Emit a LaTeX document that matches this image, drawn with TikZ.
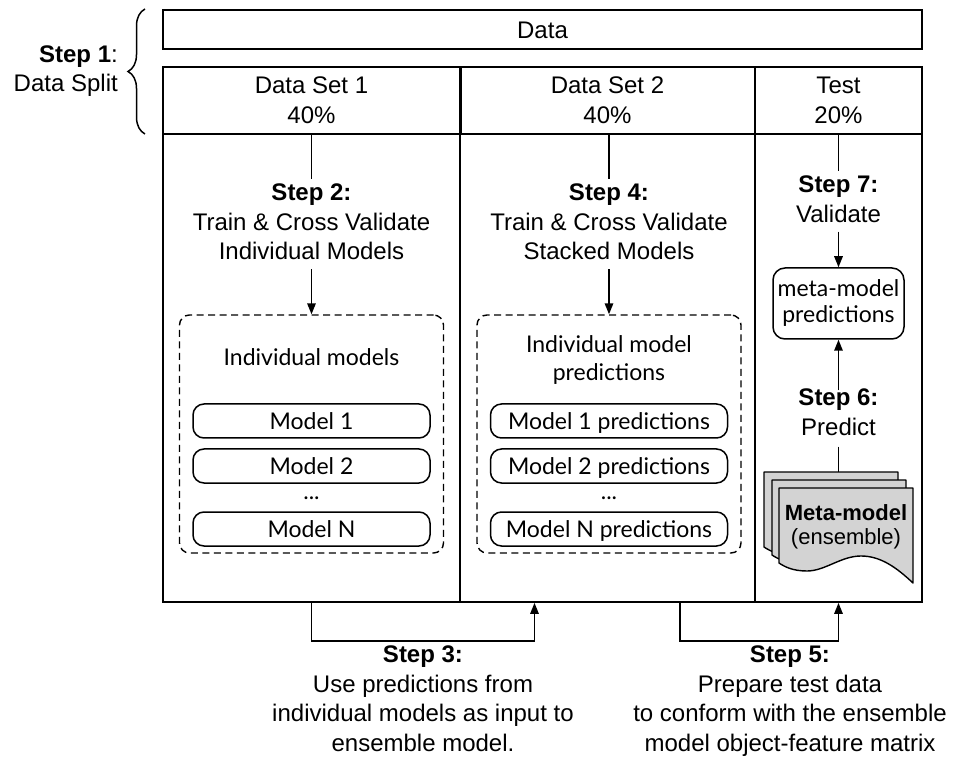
\documentclass[tikz,border=0pt]{standalone}
\usepackage{fontspec}
\setmainfont{Liberation Sans}
\newfontfamily\latofont{Lato}
\usetikzlibrary{arrows.meta,calc,decorations.pathreplacing}
\definecolor{docgray}{RGB}{211,211,211}
\tikzset{
  docfill/.style={draw, fill=docgray, line width=1.4pt, line join=round},
  docsheet/.pic={\draw[docfill] (0,0) -- (134,0) -- (134,95)
      .. controls (118,80) and (102,68) .. (82,68)
      .. controls (62,68) and (46,83) .. (28,83)
      .. controls (14,83) and (6,79) .. (0,75) -- cycle;}
}
\begin{document}
\begin{tikzpicture}[x=1pt,y=-1pt,
  cell/.style={draw, line width=1.8pt, inner sep=0pt, align=center,
               font=\fontsize{24}{30}\selectfont},
  txt/.style={font=\fontsize{24}{29.7}\selectfont, align=center, inner sep=0pt},
  ltxt/.style={font=\latofont\fontsize{23}{28}\selectfont, align=center, inner sep=0pt},
  dbox/.style={draw, dash pattern=on 7pt off 4.5pt, line width=1.4pt,
               rounded corners=10pt, minimum width=264pt, minimum height=238pt, inner sep=0pt},
  mbox/.style={draw, line width=1.5pt, rounded corners=11pt, minimum width=237pt,
               minimum height=34pt, font=\latofont\fontsize{23}{28}\selectfont,
               text height=16.5pt, text depth=0pt, inner sep=0pt},
  pbox/.style={draw, line width=1.5pt, rounded corners=12pt, minimum width=131pt,
               minimum height=71pt, font=\latofont\fontsize{23}{26}\selectfont,
               align=center, inner sep=0pt},
  conn/.style={line width=1.5pt},
  arr/.style={line width=1.5pt, -{Triangle[length=11pt,width=8.5pt]}}
]
\useasboundingbox (0,0) rectangle (954,759);

% top data box
\node[cell, minimum width=759pt, minimum height=39pt, text height=17.2pt, text depth=0pt]
  (data) at (542.5,29.5) {Data};

% header cells
\node[cell, minimum width=297pt, minimum height=67pt] (h1) at (311.5,100.5) {Data Set 1\\40\%};
\node[cell, minimum width=295pt, minimum height=67pt] (h2) at (607.5,100.5) {Data Set 2\\40\%};
\node[cell, minimum width=167pt, minimum height=67pt] (h3) at (838.5,100.5) {Test\\20\%};

% column cells
\node[cell, minimum width=297pt, minimum height=468pt] (c1) at (311.5,368) {};
\node[cell, minimum width=295pt, minimum height=468pt] (c2) at (607.5,368) {};
\node[cell, minimum width=167pt, minimum height=468pt] (c3) at (838.5,368) {};
\draw[line width=3pt] (h1.north east) -- (h1.south east);

% step 1 brace
\draw[line width=1.5pt, decorate, decoration={brace, amplitude=17pt}] (145,134) -- (145,9);
\node[txt, align=right, anchor=north east, font=\fontsize{24}{29}\selectfont]
  (s1) at (118,45.5) {\textbf{Step 1}:\\Data Split};

% column 1
\node[txt, inner ysep=4pt, anchor=north] (s2) at (311.5,179.5)
  {\textbf{Step 2:}\\Train \& Cross Validate\\Individual Models};
\node[dbox] (d1) at (311.5,434) {};
\draw[conn] (h1.south) -- (s2.north);
\draw[arr, shorten <=5pt] (s2.south) -- (d1.north);
\node[ltxt, anchor=base] (l1) at (311.5,366) {Individual models};
\node[mbox] (m11) at (311.5,421) {Model 1};
\node[mbox] (m12) at (311.5,466) {Model 2};
\node[ltxt, anchor=base] (dots1) at (311.5,499) {...};
\node[mbox] (m1n) at (311.5,529) {Model N};

% column 2
\node[txt, inner ysep=4pt, anchor=north] (s4) at (609,179.5)
  {\textbf{Step 4:}\\Train \& Cross Validate\\Stacked Models};
\node[dbox] (d2) at (609,434) {};
\draw[conn] (s4.north |- h2.south) -- (s4.north);
\draw[arr, shorten <=5pt] (s4.south) -- (d2.north);
\node[ltxt, anchor=north] (l2) at (609,335) {Individual model\\predictions};
\node[mbox] (m21) at (609,421) {Model 1 predictions};
\node[mbox] (m22) at (609,466) {Model 2 predictions};
\node[ltxt, anchor=base] (dots2) at (609,499) {...};
\node[mbox] (m2n) at (609,529) {Model N predictions};

% column 3
\node[txt, inner ysep=4pt, anchor=north] (s7) at (838.5,171.5) {\textbf{Step 7:}\\Validate};
\node[pbox] (mp) at (838.5,303.5) {meta-model\\predictions};
\node[txt, inner ysep=4pt, anchor=north] (s6) at (838.5,384.5) {\textbf{Step 6:}\\Predict};
\draw[conn] (h3.south) -- (s7.north);
\draw[arr, shorten <=5pt] (s7.south) -- (mp.north);
\draw[arr, shorten <=-6pt] (s6.north) -- (mp.south);
\coordinate (doctop) at (838.5,472);
\draw[conn, shorten <=7pt] (s6.south) -- (doctop);
\pic at (764,472) {docsheet};
\pic at (772,480) {docsheet};
\pic at (779,488) {docsheet};
\node[font=\fontsize{22}{24.5}\selectfont, align=center, inner sep=0pt, anchor=north]
  (mm) at (846,504) {\textbf{Meta-model}\\(ensemble)};

% bottom connectors
\coordinate (in2) at ($(c2.south)+(-73,0)$);
\coordinate (out2) at ($(c2.south)+(72.5,0)$);
\draw[arr] (c1.south) -- ++(0,38) -| (in2);
\draw[arr] (out2) -- ++(0,38) -| (c3.south);
\node[txt, anchor=north] (s3) at (423,645.5)
  {\textbf{Step 3:}\\Use predictions from\\individual models as input to\\ensemble model.};
\node[txt, anchor=north] (s5) at (790,645.5)
  {\textbf{Step 5:}\\Prepare test data\\to conform with the ensemble\\model object-feature matrix};
\end{tikzpicture}
\end{document}
